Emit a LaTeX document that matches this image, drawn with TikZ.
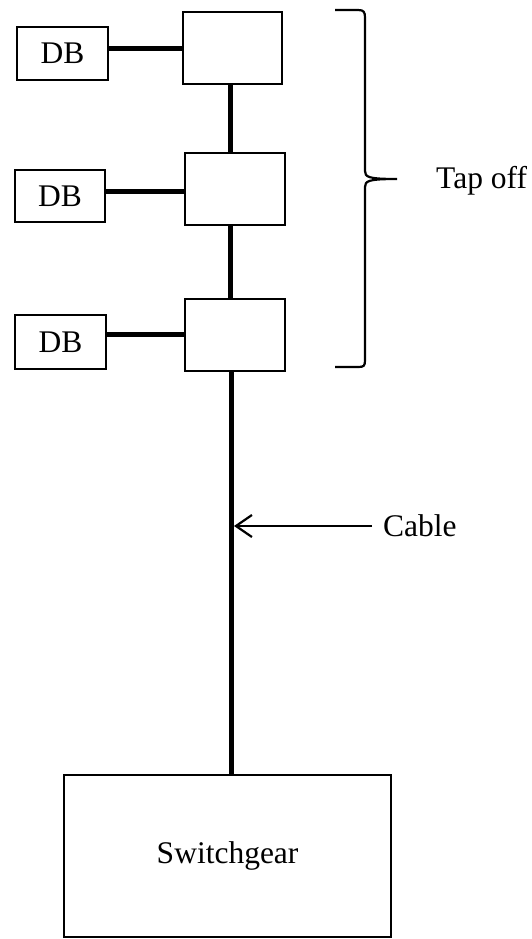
\documentclass[tikz,border=0pt]{standalone}
\usepackage{fontspec}
\setmainfont{Liberation Serif}
\usetikzlibrary{arrows.meta}
\begin{document}
\begin{tikzpicture}[x=1pt,y=-1pt,
  box/.style={draw,line width=2.2pt,inner sep=0pt,anchor=north west},
  lbl/.style={font=\fontsize{31.5}{36}\selectfont,inner sep=0pt},
  feed/.style={line width=5pt},
  thin/.style={line width=2.2pt}]
\useasboundingbox (0,0) rectangle (531,939);
% tap-off boxes
\node[box,minimum width=99pt,minimum height=72pt] (t1) at (182,11) {};
\node[box,minimum width=100pt,minimum height=72pt] (t2) at (184,152) {};
\node[box,minimum width=100pt,minimum height=72pt] (t3) at (184,298) {};
% DBs
\node[box,minimum width=91pt,minimum height=53pt,lbl] (d1) at (16,26) {DB};
\node[box,minimum width=90pt,minimum height=52pt,lbl] (d2) at (14,169) {DB};
\node[box,minimum width=91pt,minimum height=54pt,lbl] (d3) at (14,314) {DB};
% switchgear
\node[box,minimum width=327pt,minimum height=162pt,lbl] (sg) at (63,774) {Switchgear};
% connectors
\draw[feed] (d1.east |- 0,49) -- (t1.west |- 0,49);
\draw[feed] (d2.east |- 0,191) -- (t2.west |- 0,191);
\draw[feed] (d3.east |- 0,334) -- (t3.west |- 0,334);
\draw[feed] (t1.south -| 230,0) -- (t2.north -| 230,0);
\draw[feed] (t2.south -| 230,0) -- (t3.north -| 230,0);
\draw[feed] (t3.south -| 231,0) -- (sg.north -| 231,0);
% cable label
\node[lbl,anchor=west] (cable) at (383,526) {Cable};
\coordinate (cabarr) at (234,526);
\draw[thin,-{Straight Barb[length=16pt,width=22pt,line width=2.2pt]}] (cable.west) ++(-11,0) -- (cabarr);
% brace
\coordinate (btip) at (397,179);
\draw[thin] (335,10) -- (358,10) .. controls (364,10) and (365,12) .. (365,18)
  -- (365,171) .. controls (365,177) and (368,179) .. (btip)
  (btip) .. controls (368,179) and (365,181) .. (365,187)
  -- (365,360) .. controls (365,366) and (364,367) .. (358,367) -- (335,367);
\node[lbl,anchor=west] (tap) at (436,181) {Tap off};
\end{tikzpicture}
\end{document}
